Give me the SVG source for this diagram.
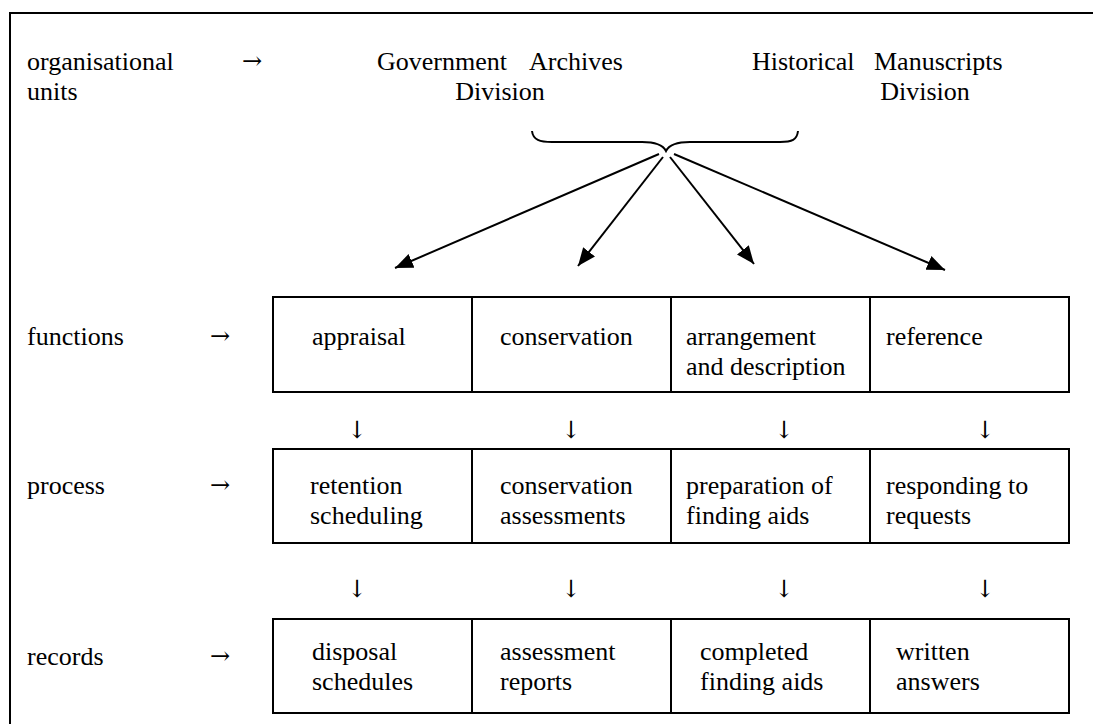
<svg xmlns="http://www.w3.org/2000/svg" width="1093" height="724" viewBox="0 0 1093 724">
  <style>
    text { font-family: "Liberation Serif", "Times New Roman", "DejaVu Serif", serif; font-size: 26px; fill: #000; }
    text.arrow { font-family: "DejaVu Serif", "DejaVu Sans", serif; font-size: 24px; }
    .frame { fill: none; stroke: #000; stroke-width: 2; }
    .cell { fill: #fff; stroke: #000; stroke-width: 2; }
    .link { fill: none; stroke: #000; stroke-width: 2; }
  </style>
  <defs>
    <marker id="head" markerUnits="userSpaceOnUse" markerWidth="20" markerHeight="16" refX="18" refY="7.5" orient="auto">
      <path d="M0,0 L18,7.5 L0,15 z" fill="#000"/>
    </marker>
  </defs>

  <rect width="1093" height="724" fill="#fff"/>
  <!-- outer frame (only top and left edges fall inside the page) -->
  <path class="frame" d="M10,724 V13 H1093"/>

  <!-- row labels -->
  <g id="labels">
    <text x="27" y="70">organisational</text>
    <text x="27" y="100">units</text>
    <text class="arrow" x="242" y="69">→&#xFE0E;</text>
    <text x="27" y="345">functions</text>
    <text class="arrow" x="210" y="344">→&#xFE0E;</text>
    <text x="27" y="494">process</text>
    <text class="arrow" x="210" y="493">→&#xFE0E;</text>
    <text x="27" y="665">records</text>
    <text class="arrow" x="210" y="664">→&#xFE0E;</text>
  </g>

  <!-- organisational units -->
  <g id="unit-gad">
    <text x="377" y="70">Government</text>
    <text x="529" y="70">Archives</text>
    <text x="500" y="100" text-anchor="middle">Division</text>
  </g>
  <g id="unit-hmd">
    <text x="752" y="70">Historical</text>
    <text x="874" y="70">Manuscripts</text>
    <text x="925" y="100" text-anchor="middle">Division</text>
  </g>

  <!-- connectors -->
  <g id="connectors">
    <path class="link" d="M532,131 C533,140 540,142 552,142 H642 C656,142 663,145 666,151 C669,145 676,142 690,142 H780 C792,142 797,140 798,131"/>
    <line class="link" x1="659" y1="154" x2="395" y2="268" marker-end="url(#head)"/>
    <line class="link" x1="663" y1="157" x2="578" y2="266" marker-end="url(#head)"/>
    <line class="link" x1="670" y1="157" x2="754" y2="264" marker-end="url(#head)"/>
    <line class="link" x1="674" y1="154" x2="945" y2="270" marker-end="url(#head)"/>
    <text class="arrow" x="357" y="438" text-anchor="middle">↓&#xFE0E;</text>
    <text class="arrow" x="571" y="438" text-anchor="middle">↓&#xFE0E;</text>
    <text class="arrow" x="784" y="438" text-anchor="middle">↓&#xFE0E;</text>
    <text class="arrow" x="985" y="438" text-anchor="middle">↓&#xFE0E;</text>
    <text class="arrow" x="357" y="597" text-anchor="middle">↓&#xFE0E;</text>
    <text class="arrow" x="571" y="597" text-anchor="middle">↓&#xFE0E;</text>
    <text class="arrow" x="784" y="597" text-anchor="middle">↓&#xFE0E;</text>
    <text class="arrow" x="985" y="597" text-anchor="middle">↓&#xFE0E;</text>
  </g>

  <!-- functions -->
  <g id="fn-appraisal">
    <rect class="cell" x="273" y="297" width="199" height="95"/>
    <text x="312" y="345">appraisal</text>
  </g>
  <g id="fn-conservation">
    <rect class="cell" x="472" y="297" width="199" height="95"/>
    <text x="500" y="345">conservation</text>
  </g>
  <g id="fn-arrangement">
    <rect class="cell" x="671" y="297" width="199" height="95"/>
    <text x="686" y="345">arrangement</text>
    <text x="686" y="375">and description</text>
  </g>
  <g id="fn-reference">
    <rect class="cell" x="870" y="297" width="199" height="95"/>
    <text x="886" y="345">reference</text>
  </g>

  <!-- processes -->
  <g id="pr-retention">
    <rect class="cell" x="273" y="449" width="199" height="94"/>
    <text x="310" y="494">retention</text>
    <text x="310" y="524">scheduling</text>
  </g>
  <g id="pr-assessments">
    <rect class="cell" x="472" y="449" width="199" height="94"/>
    <text x="500" y="494">conservation</text>
    <text x="500" y="524">assessments</text>
  </g>
  <g id="pr-finding-aids">
    <rect class="cell" x="671" y="449" width="199" height="94"/>
    <text x="686" y="494">preparation of</text>
    <text x="686" y="524">finding aids</text>
  </g>
  <g id="pr-requests">
    <rect class="cell" x="870" y="449" width="199" height="94"/>
    <text x="886" y="494">responding to</text>
    <text x="886" y="524">requests</text>
  </g>

  <!-- records -->
  <g id="rc-disposal">
    <rect class="cell" x="273" y="619" width="199" height="94"/>
    <text x="312" y="660">disposal</text>
    <text x="312" y="690">schedules</text>
  </g>
  <g id="rc-reports">
    <rect class="cell" x="472" y="619" width="199" height="94"/>
    <text x="500" y="660">assessment</text>
    <text x="500" y="690">reports</text>
  </g>
  <g id="rc-finding-aids">
    <rect class="cell" x="671" y="619" width="199" height="94"/>
    <text x="700" y="660">completed</text>
    <text x="700" y="690">finding aids</text>
  </g>
  <g id="rc-answers">
    <rect class="cell" x="870" y="619" width="199" height="94"/>
    <text x="896" y="660">written</text>
    <text x="896" y="690">answers</text>
  </g>
</svg>
